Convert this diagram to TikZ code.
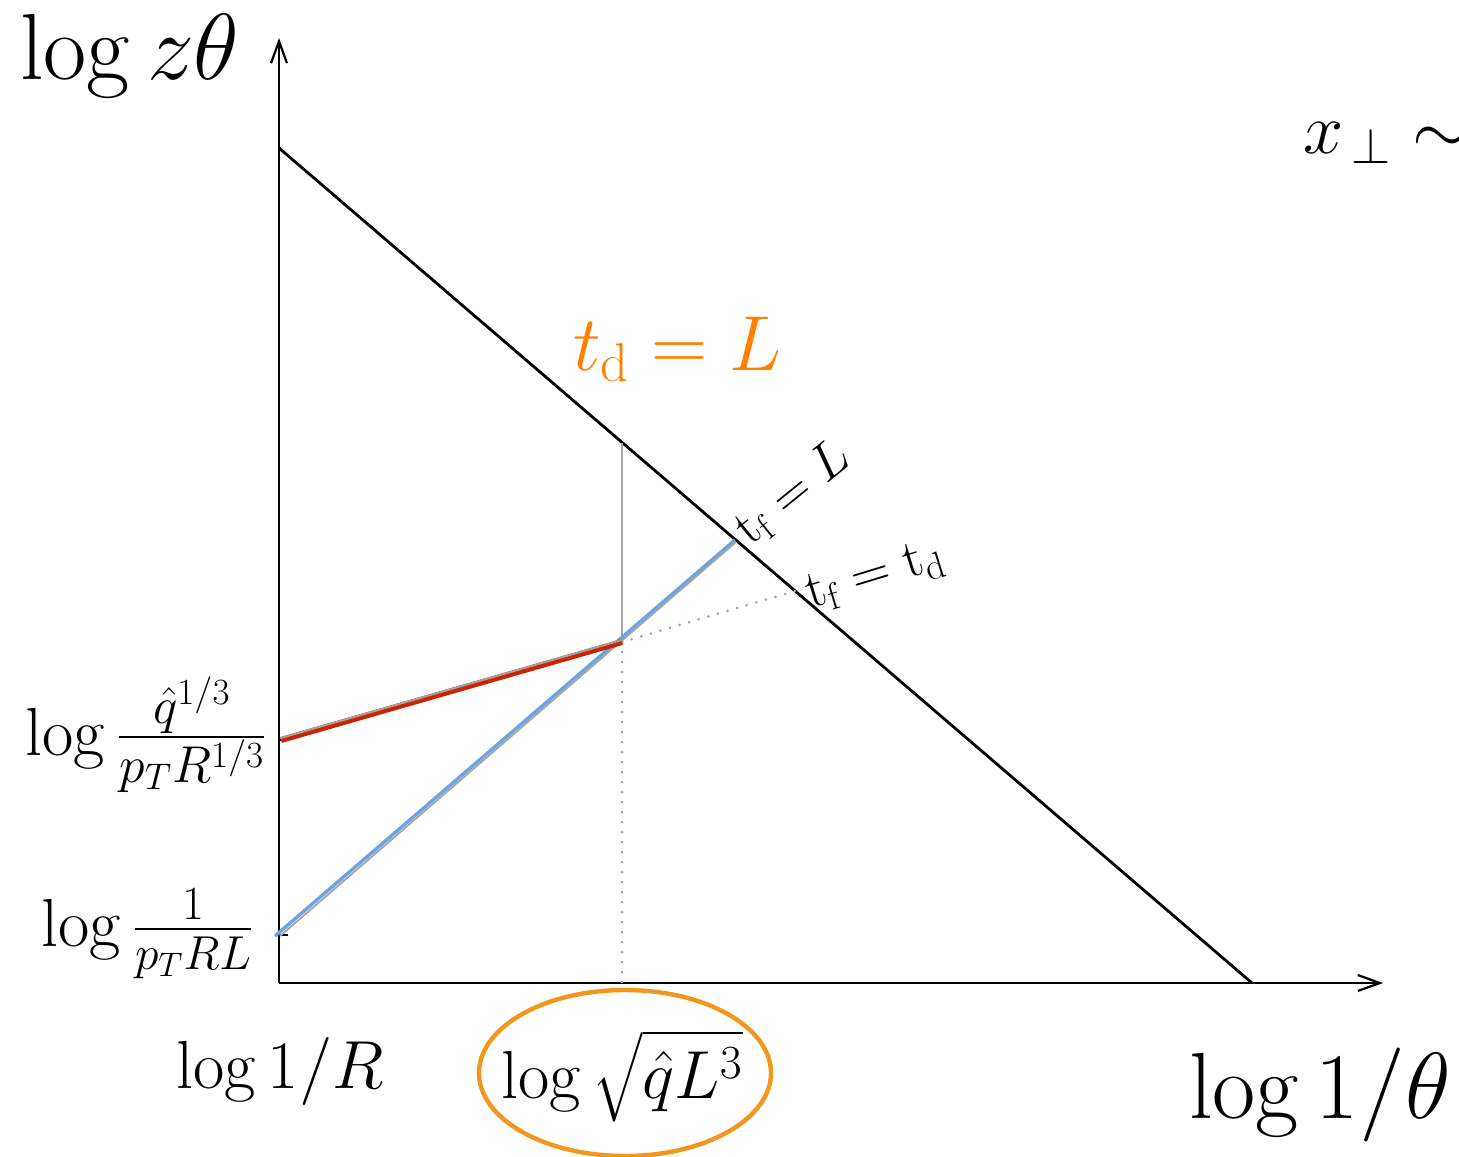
\RequirePackage{fix-cm}
\documentclass[tikz,border=0pt]{standalone}
\usepackage{amsmath}
\usetikzlibrary{arrows.meta,calc}
\definecolor{orng}{RGB}{255,128,0}
\definecolor{ellc}{RGB}{242,150,30}
\definecolor{redl}{RGB}{205,35,0}
\definecolor{bluel}{RGB}{105,165,225}
\definecolor{grayl}{RGB}{165,165,165}
\tikzset{
  axisline/.style={line width=1.4pt,-{Straight Barb[length=11pt,width=8pt,line width=1.1pt]}},
  mainline/.style={line width=1.4pt},
  dotline/.style={grayl,line width=1.5pt,line cap=round,dash pattern=on 0pt off 5pt},
  tickline/.style={line width=0.6pt},
  big/.style={font=\fontsize{47}{50}\selectfont},
  mid/.style={font=\fontsize{34}{38}\selectfont},
  lbl/.style={inner sep=0pt,anchor=base},
}
\begin{document}
\begin{tikzpicture}[x=0.5pt,y=-0.5pt]
\useasboundingbox (0,0) rectangle (1459,1156);
% key points
\coordinate (O) at (279,983);
\coordinate (Ytip) at (279,38);
\coordinate (Xtip) at (1383,983);
\coordinate (D1) at (279,148);
\coordinate (D2) at (1252,983);
\coordinate (B0) at (275,936);
\coordinate (G0) at (279,934);
\coordinate (B1) at (735,540);
\coordinate (R0) at (281,740);
\coordinate (P) at (622,642);
\coordinate (Q) at (622,443);
\coordinate (S) at (795,591);
\coordinate (Pb) at (622,983);
\coordinate (T1a) at (279,935);
\coordinate (T1b) at (288,935);
\coordinate (T2a) at (279,740);
\coordinate (T2b) at (288,740);
% axes
\draw[axisline] (O) -- (Ytip);
\draw[axisline] (O) -- (Xtip);
\draw[tickline] (T1a) -- (T1b);
\draw[tickline] (T2a) -- (T2b);
% diagonal
\draw[mainline] (D1) -- (D2);
% dotted
\draw[dotline] (P) -- (Pb);
\draw[dotline] (P) -- (S);
% vertical gray
\draw[grayl,line width=1.3pt] (P) -- (Q);
% blue with gray
\draw[bluel,line width=1.7pt] (B0) -- (B1);
\draw[grayl,line width=0.9pt] ($(G0)+(1,2)$) -- ($(B1)+(1,2)$);
% red with gray
\draw[redl,line width=3pt] (R0) -- (P);
\draw[grayl,line width=0.9pt] ($(R0)+(0,-2)$) -- ($(P)+(0,-2)$);
% ellipse
\draw[ellc,line width=2.2pt] (625,1073) ellipse [x radius=146,y radius=83];
% labels
\node[lbl,big] (ylab) at (130,80) {$\log z\theta$};
\node[lbl,big] (xlab) at (1320,1118) {$\log 1/\theta$};
\node[inner sep=0pt,anchor=base west,font=\fontsize{36}{40}\selectfont] (xperp) at (1303,153) {$x_{\,\perp}\sim$};
\node[lbl,font=\fontsize{39}{42}\selectfont,text=orng] (tdL) at (677,370) {$t_{\mathrm{d}}=L$};
\node[lbl,mid] (lR) at (280,1088) {$\log 1/R$};
\node[lbl,font=\fontsize{34}{38}\selectfont] (lsq) at (622,1098) {$\log\sqrt{\hat q L^3}$};
\node[inner sep=0pt,anchor=base east,mid] (lf1) at (267,755) {$\log\mbox{\fontsize{37}{40}\selectfont$\frac{\hat q^{1/3}}{p_T R^{1/3}}$}$};
\node[inner sep=0pt,anchor=base east,mid] (lf2) at (254,946) {$\log\frac{1}{p_T R L}$};
\node[inner sep=0pt,rotate=39,font=\fontsize{26}{30}\selectfont] (tfL) at (793,494) {$\mathrm{t}_{\mathrm{f}}=L$};
\node[inner sep=0pt,rotate=17,font=\fontsize{27}{30}\selectfont] (tftd) at (875,576) {$\mathrm{t}_{\mathrm{f}}=\mathrm{t}_{\mathrm{d}}$};
\end{tikzpicture}
\end{document}
